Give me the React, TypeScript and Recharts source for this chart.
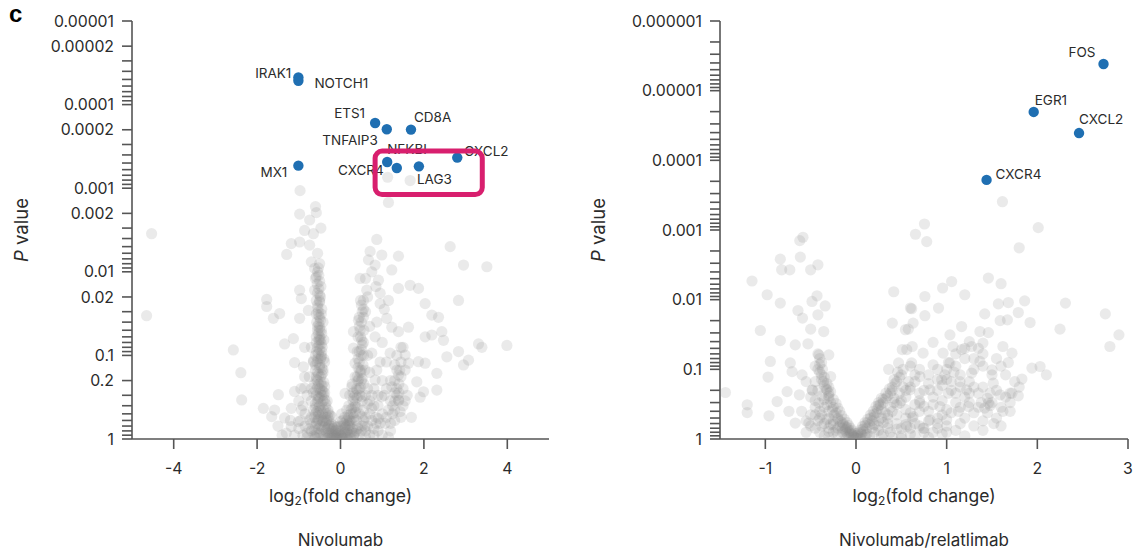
import React from 'react';
import { ScatterChart, Scatter, XAxis, YAxis, ReferenceArea } from 'recharts';

// ---------------- data ----------------
const leftXTicks = [-4, -2, 0, 2, 4];
const rightXTicks = [-1, 0, 1, 2, 3];
const mantissas = [1, 2, 3, 4, 5, 6, 7, 8, 9];
const leftDecades = [0.00001, 0.0001, 0.001, 0.01, 0.1];
const rightDecades = [0.000001, 0.00001, 0.0001, 0.001, 0.01, 0.1];
const leftLabeledTicks = [0.00001, 0.00002, 0.0001, 0.0002, 0.001, 0.002, 0.01, 0.02, 0.1, 0.2, 1];
const leftTickLabels = ['0.00001', '0.00002', '0.0001', '0.0002', '0.001', '0.002', '0.01', '0.02', '0.1', '0.2', '1'];
const rightLabeledTicks = [0.000001, 0.00001, 0.0001, 0.001, 0.01, 0.1, 1];
const rightTickLabels = ['0.000001', '0.00001', '0.0001', '0.001', '0.01', '0.1', '1'];

const leftGenes = ['IRAK1', 'NOTCH1', 'ETS1', 'TNFAIP3', 'CD8A', 'CXCL2', 'NFKBI', 'CXCR4', 'LAG3', 'MX1'];
const leftGeneX = [-1.01, -1.01, 0.83, 1.11, 1.69, 2.8, 1.12, 1.35, 1.88, -1.01];
const leftGeneP = [0.0000473, 0.000052, 0.000166, 0.000197, 0.000199, 0.00043, 0.000486, 0.000574, 0.000548, 0.000537];

const rightGenes = ['FOS', 'EGR1', 'CXCL2', 'CXCR4'];
const rightGeneX = [2.73, 1.96, 2.46, 1.44];
const rightGeneP = [0.00000414, 0.0000202, 0.0000406, 0.000191];

// highlighted region (log2FC range, P range)
const leftBoxX = [0.83, 3.4];
const leftBoxP = [0.00036, 0.00119];

const leftGray: [number, number][] = [
  [-4.53, 0.0035], [-4.65, 0.0335], [-2.57, 0.086], [-2.39, 0.161], [-2.37, 0.341],
  [-0.98, 0.00204], [-0.58, 0.00196], [-0.74, 0.0024], [-0.86, 0.0032], [-0.47, 0.003], [-0.65, 0.0035],
  [-1.18, 0.0046], [-0.98, 0.0044], [-0.74, 0.0048], [-1.29, 0.0062], [-0.7, 0.0076], [-0.62, 0.0091],
  [-0.58, 0.0115], [-0.98, 0.0166], [-0.62, 0.0166], [-0.94, 0.0209], [-0.5, 0.023], [-1.77, 0.0214],
  [-1.77, 0.026], [-1.61, 0.036], [-1.46, 0.0316], [-0.98, 0.036], [-0.77, 0.029], [-0.53, 0.033],
  [-1.34, 0.073], [-1.13, 0.063], [-0.86, 0.08], [-0.5, 0.066], [-1.1, 0.122], [-0.89, 0.137],
  [-0.65, 0.116], [-0.46, 0.105], [-0.86, 0.18], [-0.58, 0.195], [-1.1, 0.27], [-0.86, 0.245],
  [-1.49, 0.295], [-0.53, 0.31], [-1.85, 0.43], [-1.58, 0.45], [-1.18, 0.43], [-0.94, 0.45],
  [-1.34, 0.56], [-1.01, 0.62], [-0.74, 0.59], [-0.53, 0.49], [-0.38, 0.34], [-0.38, 0.235],
  [-0.42, 0.148], [-0.46, 0.073], [-0.5, 0.046], [-0.29, 0.49], [-0.22, 0.71], [-0.1, 0.85],
  [-0.62, 0.78], [-1.18, 0.71], [-1.65, 0.54],
  [-0.97, 0.00107], [-0.6, 0.00166], [1.13, 0.00074], [1.67, 0.00081], [1.15, 0.00148],
  [0.87, 0.0041], [0.71, 0.0057], [0.99, 0.0063], [1.39, 0.0065], [0.67, 0.0072], [0.83, 0.0083],
  [1.23, 0.0095], [2.63, 0.005], [2.95, 0.0083], [3.51, 0.0087], [0.47, 0.012], [0.91, 0.0126],
  [1.39, 0.0158], [1.67, 0.0145], [1.87, 0.0158], [0.63, 0.0166], [0.55, 0.022], [0.95, 0.024],
  [1.15, 0.022], [2.03, 0.024], [2.83, 0.022], [2.19, 0.033], [2.35, 0.035], [0.43, 0.038],
  [0.87, 0.04], [1.11, 0.036], [0.31, 0.052], [1.23, 0.046], [1.39, 0.052], [1.63, 0.046],
  [2.03, 0.06], [2.19, 0.057], [2.43, 0.052], [2.47, 0.066], [3.31, 0.073], [3.39, 0.08],
  [3.99, 0.076], [0.51, 0.066], [0.83, 0.06], [0.31, 0.082], [0.75, 0.094], [1.19, 0.094],
  [1.55, 0.099], [1.87, 0.119], [2.03, 0.124], [2.55, 0.104], [2.83, 0.09], [2.95, 0.13],
  [3.07, 0.114], [0.35, 0.124], [0.59, 0.15], [0.87, 0.15], [1.39, 0.172], [1.63, 0.124],
  [2.31, 0.164], [0.83, 0.197], [1.83, 0.207], [0.27, 0.237], [1.23, 0.237], [2.31, 0.26],
  [1.99, 0.272], [1.91, 0.316], [0.11, 0.285], [0.51, 0.313], [0.99, 0.313], [1.39, 0.343],
  [0.35, 0.41], [0.75, 0.43], [1.15, 0.45], [1.43, 0.47], [0.03, 0.5], [0.51, 0.54], [0.91, 0.57],
  [0.19, 0.65], [0.59, 0.71], [1.07, 0.65], [-0.05, 0.78], [0.35, 0.85], [-0.29, 0.71], [-0.21, 0.54],
  [-0.55, 0.006], [-0.5, 0.008], [-0.55, 0.01], [-0.5, 0.013], [-0.52, 0.016], [-0.48, 0.02],
  [-0.55, 0.025], [-0.45, 0.028], [-0.5, 0.035], [-0.42, 0.04], [-0.55, 0.045], [-0.45, 0.055],
  [-0.5, 0.06], [-0.4, 0.065], [-0.55, 0.08], [-0.45, 0.09], [-0.6, 0.1], [-0.4, 0.11], [-0.5, 0.13],
  [-0.6, 0.15], [-0.45, 0.17], [-0.55, 0.2], [-0.4, 0.21], [-0.5, 0.25], [-0.65, 0.28], [-0.45, 0.3],
  [-0.35, 0.38], [-0.5, 0.4], [-0.6, 0.42], [-0.4, 0.45], [-0.3, 0.55], [-0.45, 0.6], [-0.7, 0.65],
  [-0.35, 0.65], [-0.2, 0.8], [-0.5, 0.85], [-0.8, 0.85], [-0.3, 0.9], [-0.15, 0.92], [-0.05, 0.95],
  [-0.1, 0.98], [0.05, 0.97], [0.0, 0.9], [0.1, 0.93], [-0.25, 0.75], [-0.15, 0.7], [-0.35, 0.5],
  [-0.42, 0.35], [-0.38, 0.28], [-0.62, 0.22], [-0.7, 0.35], [-0.85, 0.5], [-1.0, 0.75], [-0.9, 0.9],
  [-0.65, 0.92], [-0.4, 0.95], [-1.3, 0.85], [-1.5, 0.7],
  [0.15, 0.8], [0.2, 0.7], [0.25, 0.6], [0.3, 0.5], [0.15, 0.6], [0.1, 0.75], [0.25, 0.9], [0.4, 0.7],
  [0.5, 0.8], [0.7, 0.9], [0.9, 0.8], [0.45, 0.5], [0.6, 0.55], [0.35, 0.3], [0.45, 0.25], [0.2, 0.4],
  [0.3, 0.35], [0.4, 0.18], [0.5, 0.2], [0.6, 0.3], [0.45, 0.12], [0.5, 0.1], [0.4, 0.09], [0.55, 0.07],
  [0.45, 0.045], [0.55, 0.035], [0.6, 0.03], [0.5, 0.025], [0.65, 0.02], [0.6, 0.012], [0.75, 0.01],
  [0.85, 0.015], [0.95, 0.018], [1.05, 0.028], [0.7, 0.045], [1.0, 0.07], [1.1, 0.12], [1.2, 0.2],
  [1.3, 0.28], [1.25, 0.4], [1.05, 0.3], [0.8, 0.25], [0.7, 0.16], [0.95, 0.12], [0.65, 0.1],
  [1.1, 0.55], [1.3, 0.6], [0.85, 0.65], [1.5, 0.25], [1.55, 0.15], [1.5, 0.08],
  [-0.3, 0.97], [-0.25, 0.93], [-0.2, 0.96], [-0.15, 0.88], [-0.1, 0.9], [-0.05, 0.85], [0, 0.8],
  [0.05, 0.88], [0.1, 0.84], [0.15, 0.95], [0.2, 0.88], [-0.12, 0.8], [-0.08, 0.72], [-0.18, 0.75],
  [-0.22, 0.66], [-0.28, 0.6], [0.02, 0.7], [0.08, 0.65], [0.12, 0.72], [0.18, 0.78], [0.22, 0.68],
  [0.28, 0.75], [0.32, 0.92], [0.38, 0.8], [-0.35, 0.8], [-0.4, 0.88], [-0.45, 0.78], [-0.55, 0.9],
  [-0.6, 0.7], [-0.5, 0.68], [-0.55, 0.6], [-0.6, 0.5], [-0.52, 0.52], [-0.48, 0.45], [-0.55, 0.36],
  [-0.5, 0.32], [-0.58, 0.3], [-0.45, 0.26], [-0.52, 0.22], [-0.48, 0.18], [-0.55, 0.16], [-0.5, 0.14],
  [-0.56, 0.12], [-0.48, 0.11], [-0.53, 0.095], [-0.5, 0.085], [-0.58, 0.07], [-0.47, 0.065],
  [-0.54, 0.055], [-0.5, 0.05], [-0.57, 0.04], [-0.48, 0.038], [-0.53, 0.03], [-0.58, 0.022],
  [-0.5, 0.019], [-0.56, 0.014], [-0.6, 0.012], [-0.53, 0.009], [-0.45, 0.23], [-0.42, 0.16],
  [-0.38, 0.12], [-0.4, 0.3], [-0.35, 0.42], [-0.32, 0.35], [-0.65, 0.45], [-0.7, 0.55], [-0.75, 0.75],
  [-0.85, 0.7], [-0.95, 0.6], [-0.7, 0.8], [-0.8, 0.95], [-1.1, 0.9], [-0.6, 0.97], [-0.7, 0.25],
  [-0.75, 0.18], [-0.65, 0.12], [-0.7, 0.08], [-0.8, 0.3], [-0.9, 0.4], [-1.0, 0.35], [-0.95, 0.25],
  [-1.2, 0.6], [-1.4, 0.9],
  [0.25, 0.5], [0.3, 0.42], [0.35, 0.38], [0.3, 0.28], [0.38, 0.25], [0.42, 0.2], [0.48, 0.16],
  [0.42, 0.14], [0.5, 0.15], [0.45, 0.09], [0.52, 0.075], [0.48, 0.06], [0.5, 0.04], [0.45, 0.035],
  [0.52, 0.03], [0.55, 0.028], [0.48, 0.022], [0.2, 0.55], [0.15, 0.45], [0.1, 0.55], [0.22, 0.3],
  [0.28, 0.22], [0.35, 0.18], [0.55, 0.6], [0.65, 0.7], [0.6, 0.8], [0.8, 0.75], [0.75, 0.6],
  [0.7, 0.5], [0.85, 0.55], [0.9, 0.4], [1.0, 0.5], [1.2, 0.8], [1.0, 0.9], [0.6, 0.95], [1.3, 0.45],
  [1.35, 0.3], [1.4, 0.22], [1.35, 0.15], [1.45, 0.12], [1.4, 0.35], [1.3, 0.2], [1.45, 0.18],
  [1.5, 0.4], [1.6, 0.3], [1.7, 0.55], [1.2, 0.35], [0.65, 0.38], [0.75, 0.3], [0.55, 0.45],
  [-0.62, 0.95], [-0.57, 0.85], [-0.52, 0.75], [-0.47, 0.7], [-0.43, 0.62], [-0.58, 0.65], [-0.53, 0.58],
  [-0.47, 0.55], [-0.62, 0.55], [-0.57, 0.47], [-0.43, 0.5], [-0.52, 0.42], [-0.46, 0.38], [-0.6, 0.38],
  [-0.54, 0.33], [-0.48, 0.28], [-0.42, 0.27], [-0.6, 0.26], [-0.55, 0.24], [-0.47, 0.21], [-0.58, 0.18],
  [-0.52, 0.17], [-0.45, 0.14], [-0.6, 0.13], [-0.54, 0.11], [-0.46, 0.1], [-0.57, 0.09], [-0.51, 0.075],
  [-0.44, 0.08], [-0.58, 0.06], [-0.52, 0.065], [-0.46, 0.05], [-0.55, 0.05], [-0.52, 0.042],
  [-0.46, 0.032], [-0.58, 0.032], [-0.54, 0.027], [-0.5, 0.022], [-0.55, 0.018], [-0.47, 0.015],
  [-0.52, 0.011],
  [-0.35, 0.98], [-0.3, 0.85], [-0.25, 0.86], [-0.2, 0.9], [-0.17, 0.98], [-0.13, 0.94], [-0.08, 0.96],
  [-0.03, 0.99], [0.02, 0.93], [0.07, 0.99], [0.12, 0.88], [0.17, 0.86], [0.22, 0.97], [0.27, 0.82],
  [0.33, 0.86], [-0.27, 0.68], [-0.32, 0.75], [-0.38, 0.72], [-0.4, 0.6], [-0.33, 0.6], [-0.25, 0.52],
  [-0.3, 0.45], [-0.37, 0.55], [-0.1, 0.78], [-0.05, 0.7], [0.0, 0.62], [0.05, 0.6], [0.1, 0.68],
  [0.16, 0.68], [0.22, 0.6], [0.18, 0.52], [0.28, 0.62], [0.32, 0.55], [0.38, 0.6], [0.42, 0.75],
  [0.45, 0.88], [0.52, 0.7], [0.36, 0.48], [0.4, 0.42], [0.26, 0.44], [0.32, 0.32], [0.4, 0.32],
  [0.46, 0.3], [0.52, 0.35], [0.4, 0.26], [0.48, 0.24], [0.44, 0.19], [0.52, 0.19], [0.56, 0.22],
  [0.46, 0.15], [0.54, 0.13], [0.42, 0.11], [0.55, 0.1], [0.5, 0.085], [0.42, 0.06], [0.47, 0.05],
  [0.56, 0.05],
  [0.65, 0.25], [0.7, 0.35], [0.8, 0.4], [0.9, 0.3], [1.0, 0.2], [1.1, 0.25], [1.3, 0.35], [1.35, 0.25],
  [1.4, 0.28], [1.42, 0.15], [1.35, 0.1], [1.45, 0.08], [1.3, 0.13], [1.25, 0.5], [1.45, 0.55],
  [1.55, 0.35], [1.2, 0.65], [0.95, 0.65], [0.8, 0.9], [1.15, 0.95],
];

const rightGray: [number, number][] = [
  [1.615, 0.000392], [2.01, 0.000925], [0.755, 0.00082], [0.656, 0.00115], [0.78, 0.00147],
  [-0.585, 0.00127], [-0.62, 0.00142], [1.8, 0.0018],
  [-0.835, 0.00262], [-0.614, 0.00245], [-0.82, 0.00373], [-0.73, 0.00373], [-0.5, 0.00373],
  [-0.42, 0.00316], [-1.147, 0.0054], [-0.98, 0.0085], [-0.835, 0.0112], [-0.485, 0.0106],
  [-0.43, 0.0088], [-0.34, 0.0123], [-0.64, 0.0143], [-0.59, 0.0184], [-0.42, 0.0165],
  [-1.055, 0.0277], [-0.5, 0.0265], [-0.356, 0.0287], [-0.835, 0.0386], [-0.67, 0.0446],
  [-0.53, 0.043], [-0.945, 0.077], [-0.725, 0.081], [-0.41, 0.062], [-0.3, 0.062], [-0.97, 0.129],
  [-0.705, 0.108], [-0.595, 0.12], [-1.44, 0.215], [-0.76, 0.209], [-0.625, 0.232], [-0.485, 0.197],
  [-0.87, 0.29], [-1.2, 0.323], [-1.2, 0.417], [-0.96, 0.465], [-0.74, 0.4], [-0.67, 0.59],
  [-0.52, 0.59], [-0.41, 0.305], [-0.32, 0.197], [-0.28, 0.127],
  [0.1, 0.87], [0.25, 0.33], [0.36, 0.1], [0.416, 0.0077], [0.4, 0.0217], [0.545, 0.027], [0.6, 0.0132],
  [0.51, 0.052], [0.47, 0.081], [0.62, 0.047],
  [1.46, 0.0049], [1.6, 0.0059], [1.055, 0.0055], [0.955, 0.0068], [1.2, 0.0085], [0.76, 0.009],
  [1.57, 0.0115], [1.68, 0.011], [1.86, 0.0104], [2.31, 0.0112], [0.614, 0.0135], [0.91, 0.0132],
  [1.42, 0.016], [1.79, 0.0153], [0.76, 0.017], [0.63, 0.0217], [1.59, 0.02], [1.67, 0.0195],
  [1.92, 0.0213], [2.75, 0.016], [0.577, 0.0265], [1.165, 0.0243], [1.367, 0.0287], [1.46, 0.0297],
  [2.25, 0.0265], [2.9, 0.032], [2.8, 0.047], [1.036, 0.032], [0.85, 0.041], [1.07, 0.047],
  [1.275, 0.047], [1.4, 0.042], [1.62, 0.047], [1.72, 0.0586], [1.68, 0.08], [0.56, 0.052],
  [0.74, 0.0586], [0.96, 0.0586], [1.165, 0.052], [1.367, 0.077], [1.94, 0.096], [2.03, 0.091],
  [2.1, 0.12], [1.83, 0.138], [0.614, 0.081], [0.85, 0.086], [1.036, 0.081], [1.5, 0.102],
  [1.275, 0.113], [0.705, 0.127], [0.945, 0.141], [1.147, 0.15], [1.514, 0.158], [0.595, 0.197],
  [0.815, 0.197], [1.018, 0.22], [1.22, 0.197], [1.477, 0.22], [1.59, 0.232], [1.72, 0.22],
  [1.79, 0.24], [1.46, 0.305], [0.485, 0.305], [0.705, 0.305], [0.926, 0.342], [1.13, 0.4],
  [1.24, 0.342], [0.63, 0.475], [0.815, 0.53], [1.0, 0.53], [0.56, 0.66], [0.74, 0.7],
  [-0.45, 0.09], [-0.4, 0.11], [-0.38, 0.14], [-0.35, 0.17], [-0.42, 0.2], [-0.3, 0.22], [-0.35, 0.27],
  [-0.28, 0.3], [-0.25, 0.35], [-0.3, 0.4], [-0.22, 0.42], [-0.2, 0.5], [-0.25, 0.55], [-0.15, 0.58],
  [-0.18, 0.65], [-0.1, 0.68], [-0.12, 0.75], [-0.08, 0.8], [-0.05, 0.86], [-0.03, 0.92], [0, 0.97],
  [-0.4, 0.5], [-0.35, 0.6], [-0.45, 0.35], [-0.5, 0.45], [-0.3, 0.7], [-0.45, 0.7], [-0.55, 0.8],
  [-0.2, 0.85], [-0.35, 0.9], [-0.1, 0.95], [-0.5, 0.25], [-0.55, 0.15], [-0.38, 0.08],
  [0.03, 0.93], [0.06, 0.85], [0.08, 0.78], [0.12, 0.7], [0.15, 0.62], [0.18, 0.55], [0.2, 0.48],
  [0.23, 0.42], [0.28, 0.38], [0.3, 0.3], [0.33, 0.26], [0.38, 0.22], [0.4, 0.18], [0.45, 0.15],
  [0.5, 0.12], [0.15, 0.9], [0.25, 0.75], [0.35, 0.6], [0.45, 0.45], [0.55, 0.38], [0.3, 0.85],
  [0.5, 0.7], [0.65, 0.6], [0.4, 0.95], [0.6, 0.85], [0.75, 0.8], [0.9, 0.7], [1.1, 0.75], [1.3, 0.65],
  [0.55, 0.25], [0.7, 0.22], [0.65, 0.15], [0.8, 0.12], [0.9, 0.1], [1.0, 0.14], [1.1, 0.09],
  [1.2, 0.07], [1.3, 0.1], [1.25, 0.15], [0.8, 0.4], [0.95, 0.45], [1.1, 0.3], [1.35, 0.35], [1.2, 0.5],
  [0.35, 0.45], [0.25, 0.55], [0.42, 0.3], [1.55, 0.5], [1.6, 0.35], [1.7, 0.3], [1.4, 0.18],
  [1.55, 0.07], [1.35, 0.05], [1.65, 0.12], [1.8, 0.18],
  [-0.4, 0.07], [-0.42, 0.1], [-0.38, 0.12], [-0.36, 0.15], [-0.33, 0.19], [-0.38, 0.24], [-0.3, 0.26],
  [-0.32, 0.32], [-0.26, 0.38], [-0.24, 0.45], [-0.2, 0.52], [-0.17, 0.56], [-0.14, 0.62], [-0.12, 0.66],
  [-0.1, 0.72], [-0.07, 0.76], [-0.06, 0.82], [-0.03, 0.88], [-0.02, 0.95], [0.01, 0.98], [-0.15, 0.8],
  [-0.25, 0.8], [-0.2, 0.7], [-0.28, 0.62], [-0.32, 0.52], [-0.4, 0.4], [-0.45, 0.28], [-0.48, 0.2],
  [-0.4, 0.8], [-0.5, 0.65], [-0.55, 0.55], [-0.6, 0.4], [-0.45, 0.15], [-0.3, 0.95], [-0.12, 0.9],
  [0.02, 0.88], [0.05, 0.8], [0.08, 0.72], [0.1, 0.64], [0.13, 0.58], [0.16, 0.5], [0.2, 0.44],
  [0.24, 0.37], [0.27, 0.32], [0.3, 0.27], [0.35, 0.24], [0.4, 0.2], [0.43, 0.16], [0.48, 0.13],
  [0.52, 0.1], [0.1, 0.95], [0.2, 0.8], [0.2, 0.62], [0.28, 0.5], [0.32, 0.42], [0.38, 0.35],
  [0.42, 0.26], [0.48, 0.22], [0.52, 0.18], [0.58, 0.15], [0.35, 0.7], [0.45, 0.6], [0.55, 0.5],
  [0.6, 0.42], [0.65, 0.32], [0.7, 0.28], [0.75, 0.2], [0.8, 0.16], [0.6, 0.7], [0.7, 0.65], [0.8, 0.55],
  [0.9, 0.6], [0.85, 0.32], [0.95, 0.28], [1.0, 0.38], [1.05, 0.2], [1.15, 0.18], [1.2, 0.25],
  [1.25, 0.3], [1.3, 0.42], [1.15, 0.6], [1.4, 0.55], [1.0, 0.65], [0.95, 0.85], [1.2, 0.9], [0.5, 0.9],
  [0.8, 0.95], [1.4, 0.75], [1.6, 0.65], [1.45, 0.42], [1.5, 0.3], [1.55, 0.2], [1.65, 0.25], [1.7, 0.4],
  [1.75, 0.15], [1.5, 0.12], [1.4, 0.09], [1.3, 0.07], [1.2, 0.05], [1.1, 0.06], [1.0, 0.1], [0.9, 0.14],
  [0.7, 0.1], [0.6, 0.09], [1.25, 0.04], [1.4, 0.06], [1.6, 0.09], [1.45, 0.26], [1.35, 0.22],
  [0.95, 0.17], [1.1, 0.22],
  [-0.42, 0.06], [-0.4, 0.085], [-0.37, 0.1], [-0.35, 0.13], [-0.32, 0.16], [-0.3, 0.18], [-0.28, 0.21],
  [-0.3, 0.24], [-0.25, 0.27], [-0.22, 0.31], [-0.2, 0.36], [-0.18, 0.4], [-0.16, 0.46], [-0.13, 0.52],
  [-0.1, 0.58], [-0.08, 0.64], [-0.06, 0.7], [-0.04, 0.76], [-0.02, 0.83], [0, 0.9], [-0.35, 0.35],
  [-0.38, 0.45], [-0.3, 0.5], [-0.25, 0.62], [-0.22, 0.75], [-0.15, 0.7], [-0.1, 0.82], [-0.08, 0.92],
  [-0.42, 0.55], [-0.38, 0.65], [-0.3, 0.78], [-0.45, 0.45],
  [0.02, 0.82], [0.05, 0.74], [0.07, 0.66], [0.1, 0.58], [0.13, 0.52], [0.16, 0.45], [0.19, 0.4],
  [0.22, 0.34], [0.25, 0.3], [0.28, 0.26], [0.33, 0.22], [0.37, 0.19], [0.42, 0.14], [0.46, 0.11],
  [0.05, 0.97], [0.12, 0.85], [0.18, 0.7], [0.24, 0.65], [0.3, 0.58], [0.35, 0.5], [0.4, 0.4],
  [0.45, 0.32], [0.5, 0.28], [0.55, 0.2], [0.6, 0.18], [0.65, 0.12], [0.28, 0.9], [0.38, 0.8],
  [0.45, 0.72], [0.55, 0.62], [0.62, 0.5], [0.7, 0.4], [0.75, 0.34], [0.85, 0.25], [0.9, 0.2],
  [0.5, 0.98], [0.65, 0.9], [0.75, 0.7], [0.85, 0.8], [1.0, 0.8], [0.9, 0.5], [1.05, 0.42], [1.15, 0.35],
  [1.25, 0.22], [1.3, 0.18], [1.15, 0.12], [1.05, 0.15],
  [1.38, 0.3], [1.42, 0.36], [1.48, 0.33], [1.02, 0.08], [0.98, 0.12], [1.08, 0.11], [1.62, 0.4],
  [1.7, 0.22], [1.52, 0.6],
];

// ---------------- styling ----------------
const FONT = 'Inter, "Noto Sans", Arial, sans-serif';
const TEXT = '#2b2b2b';
const AXIS = '#555555';
const BLUE = '#1f6fb2';
const GRAY = '#8a8a8a';
const PINK = '#d81f6e';

type LabelPos = { dx: number; dy: number; anchor: 'start' | 'end' };
const leftLabelPos: Record<string, LabelPos> = {
  IRAK1: { dx: -7, dy: -4, anchor: 'end' },
  NOTCH1: { dx: 16, dy: 2, anchor: 'start' },
  ETS1: { dx: -10, dy: -10, anchor: 'end' },
  TNFAIP3: { dx: -9, dy: 11, anchor: 'end' },
  CD8A: { dx: 3, dy: -13, anchor: 'start' },
  CXCL2: { dx: 7, dy: -7, anchor: 'start' },
  NFKBI: { dx: 0, dy: -13, anchor: 'start' },
  CXCR4: { dx: -13, dy: 2, anchor: 'end' },
  LAG3: { dx: -2, dy: 13, anchor: 'start' },
  MX1: { dx: -11, dy: 6, anchor: 'end' },
};
const rightLabelPos: Record<string, LabelPos> = {
  FOS: { dx: -8, dy: -12, anchor: 'end' },
  EGR1: { dx: 1, dy: -12, anchor: 'start' },
  CXCL2: { dx: 0, dy: -14, anchor: 'start' },
  CXCR4: { dx: 9, dy: -6, anchor: 'start' },
};

// ---------------- derived ----------------
const buildTicks = (decades: number[]) =>
  decades.flatMap((d) => mantissas.map((m) => Number((m * d).toPrecision(6)))).concat([1]);
const leftYTicks = buildTicks(leftDecades);
const rightYTicks = buildTicks(rightDecades);

const makeFormatter = (vals: number[], labels: string[]) => (v: number) => {
  const i = vals.findIndex((t) => Math.abs(v / t - 1) < 1e-6);
  return i >= 0 ? labels[i] : '';
};

const toPoints = (arr: [number, number][]) => arr.map(([x, p]) => ({ x, p }));
const toGenes = (names: string[], xs: number[], ps: number[]) =>
  names.map((name, i) => ({ name, x: xs[i], p: ps[i] }));

const grayShape = (props: any) => (
  <circle cx={props.cx} cy={props.cy} r={5.6} fill={GRAY} fillOpacity={0.18} />
);

const geneShape = (pos: Record<string, LabelPos>) => (props: any) => {
  const { cx, cy, payload } = props;
  const lp = pos[payload.name];
  return (
    <g>
      <circle cx={cx} cy={cy} r={5.2} fill={BLUE} />
      <text
        x={cx + lp.dx}
        y={cy + lp.dy}
        textAnchor={lp.anchor}
        dominantBaseline="central"
        fontSize={13.5}
        fontFamily={FONT}
        fill={TEXT}
      >
        {payload.name}
      </text>
    </g>
  );
};

const xLabel = (title: string) => (props: any) => {
  const vb = props.viewBox || { x: 0, y: 0, width: 0 };
  const cx = vb.x + vb.width / 2;
  return (
    <g>
      <text x={cx} y={vb.y + 56} textAnchor="middle" dominantBaseline="central" fontSize={17.5} fontFamily={FONT} fill={TEXT}>
        log<tspan dy={5} fontSize={12}>2</tspan>
        <tspan dy={-5}>(fold change)</tspan>
      </text>
      <text x={cx} y={vb.y + 101} textAnchor="middle" dominantBaseline="central" fontSize={17} fontFamily={FONT} fill={TEXT}>
        {title}
      </text>
    </g>
  );
};

const yLabel = (offset: number) => (props: any) => {
  const vb = props.viewBox || { x: 0, y: 0, height: 0 };
  const x = vb.x + offset;
  const y = vb.y + vb.height / 2;
  return (
    <text
      x={x}
      y={y}
      transform={`rotate(-90 ${x} ${y})`}
      textAnchor="middle"
      dominantBaseline="central"
      fontSize={18.5}
      fontFamily={FONT}
      fill={TEXT}
    >
      <tspan fontStyle="italic">P</tspan> value
    </text>
  );
};

const tickStyle = { fill: TEXT, fontSize: 15.8, fontFamily: FONT };

function Panel(props: {
  width: number;
  yAxisWidth: number;
  marginRight: number;
  xDomain: [number, number];
  xTicks: number[];
  yDomain: [number, number];
  yTicks: number[];
  yFormat: (v: number) => string;
  gray: { x: number; p: number }[];
  genes: { name: string; x: number; p: number }[];
  labelPos: Record<string, LabelPos>;
  title: string;
  yLabelOffset: number;
  box?: { x: number[]; p: number[] };
}) {
  return (
    <ScatterChart width={props.width} height={551} margin={{ top: 21, right: props.marginRight, bottom: 0, left: 0 }}>
      <XAxis
        dataKey="x"
        type="number"
        domain={props.xDomain}
        ticks={props.xTicks}
        allowDataOverflow
        interval={0}
        height={112}
        stroke={AXIS}
        strokeWidth={1.6}
        tickSize={10}
        tickMargin={14}
        tick={tickStyle}
        label={{ content: xLabel(props.title) }}
      />
      <XAxis xAxisId="top" orientation="top" type="number" domain={props.xDomain} height={0} tick={false} tickLine={false} stroke={AXIS} strokeWidth={1.6} />
      <YAxis
        dataKey="p"
        type="number"
        scale="log"
        domain={props.yDomain}
        ticks={props.yTicks}
        reversed
        allowDataOverflow
        interval={0}
        width={props.yAxisWidth}
        stroke={AXIS}
        strokeWidth={1.6}
        tickSize={10}
        tickMargin={8}
        tick={tickStyle}
        tickFormatter={props.yFormat}
        label={{ content: yLabel(props.yLabelOffset) }}
      />
      <YAxis yAxisId="right" orientation="right" type="number" width={0} tick={false} tickLine={false} stroke={AXIS} strokeWidth={1.6} />
      <Scatter data={props.gray} shape={grayShape} isAnimationActive={false} />
      <Scatter data={props.genes} shape={geneShape(props.labelPos)} isAnimationActive={false} />
      {props.box && (
        <ReferenceArea
          x1={props.box.x[0]}
          x2={props.box.x[1]}
          y1={props.box.p[0]}
          y2={props.box.p[1]}
          ifOverflow="visible"
          zIndex={2000}
          shape={(s: any) => (
            <rect x={s.x} y={s.y} width={s.width} height={s.height} rx={7} ry={7} fill="none" stroke={PINK} strokeWidth={5} />
          )}
        />
      )}
    </ScatterChart>
  );
}

export default function App() {
  return (
    <div style={{ position: 'absolute', left: 0, top: 0, width: 1134, height: 551, background: '#fff', fontFamily: FONT }}>
      <div style={{ position: 'absolute', left: 0, top: 0 }}>
        <Panel
          width={560}
          yAxisWidth={132}
          marginRight={11}
          xDomain={[-5, 5]}
          xTicks={leftXTicks}
          yDomain={[0.00001, 1]}
          yTicks={leftYTicks}
          yFormat={makeFormatter(leftLabeledTicks, leftTickLabels)}
          gray={toPoints(leftGray)}
          genes={toGenes(leftGenes, leftGeneX, leftGeneP)}
          labelPos={leftLabelPos}
          title="Nivolumab"
          yLabelOffset={21}
          box={{ x: leftBoxX, p: leftBoxP }}
        />
      </div>
      <div style={{ position: 'absolute', left: 570, top: 0 }}>
        <Panel
          width={564}
          yAxisWidth={150}
          marginRight={6}
          xDomain={[-1.5, 3]}
          xTicks={rightXTicks}
          yDomain={[0.000001, 1]}
          yTicks={rightYTicks}
          yFormat={makeFormatter(rightLabeledTicks, rightTickLabels)}
          gray={toPoints(rightGray)}
          genes={toGenes(rightGenes, rightGeneX, rightGeneP)}
          labelPos={rightLabelPos}
          title="Nivolumab/relatlimab"
          yLabelOffset={28}
        />
      </div>
      <div
        style={{
          position: 'absolute',
          left: 9,
          top: 2,
          lineHeight: '24px',
          fontFamily: '"Liberation Sans", Arial, sans-serif',
          fontWeight: 'bold',
          fontSize: 24,
          color: '#000',
        }}
      >
        c
      </div>
    </div>
  );
}
